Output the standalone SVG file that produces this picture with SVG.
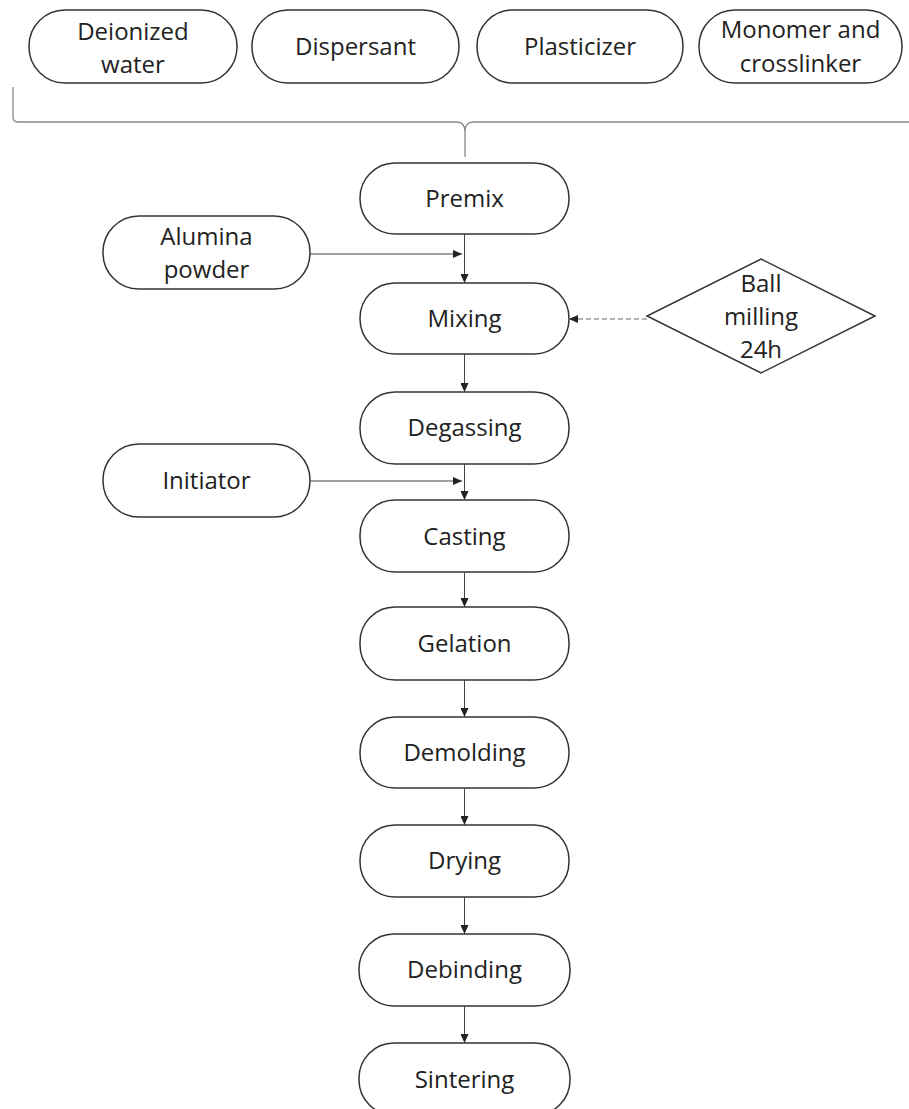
<svg xmlns="http://www.w3.org/2000/svg" width="909" height="1109" viewBox="0 0 909 1109">
<defs>
<marker id="ah" markerWidth="10" markerHeight="8" refX="9" refY="4" orient="auto" markerUnits="userSpaceOnUse">
<path d="M0,0 L9,4 L0,8 Z" fill="#222"/>
</marker>
<style>
.n{fill:#fff;stroke:#333;stroke-width:1.5}
.t{font-family:"Open Sans","Liberation Sans",sans-serif;font-size:24px;fill:#222;text-anchor:middle}
.c{fill:none;stroke:#444;stroke-width:1}
.d{fill:none;stroke:#666;stroke-width:1;stroke-dasharray:5,3}
.b{fill:none;stroke:#888;stroke-width:1.3}
</style>
</defs>
<rect width="909" height="1109" fill="#fff"/>

<g id="deionized-water"><rect class="n" x="29" y="10" width="208" height="73" rx="36" ry="36"/><text class="t" x="133" y="40">Deionized</text><text class="t" x="133" y="73">water</text></g>
<g id="dispersant"><rect class="n" x="252" y="10" width="207" height="73" rx="36" ry="36"/><text class="t" x="355.5" y="55">Dispersant</text></g>
<g id="plasticizer"><rect class="n" x="477" y="10" width="206" height="73" rx="36" ry="36"/><text class="t" x="580" y="55">Plasticizer</text></g>
<g id="monomer"><rect class="n" x="699" y="10" width="203" height="73" rx="36" ry="36"/><text class="t" x="800.5" y="38">Monomer and</text><text class="t" x="800.5" y="72">crosslinker</text></g>

<g id="brace"><path class="b" d="M13,87 L13,117 Q13,122 18,122 L457,122 Q465,122 465,132 L465,157 M465,132 Q465,122 473,122 L912,122"/></g>

<g id="premix"><rect class="n" x="360" y="163" width="209" height="71" rx="35" ry="35"/><text class="t" x="464.5" y="207">Premix</text></g>
<g id="alumina"><rect class="n" x="103" y="216" width="207" height="73" rx="36" ry="36"/><text class="t" x="206.5" y="245">Alumina</text><text class="t" x="206.5" y="278">powder</text></g>
<g id="mixing"><rect class="n" x="360" y="283" width="209" height="71" rx="35" ry="35"/><text class="t" x="464.5" y="327">Mixing</text></g>
<g id="ball-milling"><polygon class="n" points="761,259 875,316 761,373 647,316"/><text class="t" x="761" y="292">Ball</text><text class="t" x="761" y="325">milling</text><text class="t" x="761" y="358">24h</text></g>
<g id="degassing"><rect class="n" x="360" y="392" width="209" height="72" rx="35" ry="35"/><text class="t" x="464.5" y="436">Degassing</text></g>
<g id="initiator"><rect class="n" x="103" y="444" width="207" height="73" rx="36" ry="36"/><text class="t" x="206.5" y="489">Initiator</text></g>
<g id="casting"><rect class="n" x="360" y="500" width="209" height="72" rx="35" ry="35"/><text class="t" x="464.5" y="545">Casting</text></g>
<g id="gelation"><rect class="n" x="360" y="607" width="209" height="73" rx="35" ry="35"/><text class="t" x="464.5" y="652">Gelation</text></g>
<g id="demolding"><rect class="n" x="360" y="717" width="209" height="71" rx="35" ry="35"/><text class="t" x="464.5" y="761">Demolding</text></g>
<g id="drying"><rect class="n" x="360" y="825" width="209" height="72" rx="35" ry="35"/><text class="t" x="464.5" y="869">Drying</text></g>
<g id="debinding"><rect class="n" x="359" y="934" width="211" height="72" rx="35" ry="35"/><text class="t" x="464.5" y="978">Debinding</text></g>
<g id="sintering"><rect class="n" x="359" y="1043" width="211" height="72" rx="35" ry="35"/><text class="t" x="464.5" y="1088">Sintering</text></g>

<g id="connectors">
<line class="c" x1="464.5" y1="234" x2="464.5" y2="283" marker-end="url(#ah)"/>
<line class="c" x1="310" y1="254" x2="462" y2="254" marker-end="url(#ah)"/>
<line class="d" x1="647" y1="319" x2="569" y2="319" marker-end="url(#ah)"/>
<line class="c" x1="464.5" y1="354" x2="464.5" y2="392" marker-end="url(#ah)"/>
<line class="c" x1="464.5" y1="464" x2="464.5" y2="500" marker-end="url(#ah)"/>
<line class="c" x1="310" y1="481" x2="462" y2="481" marker-end="url(#ah)"/>
<line class="c" x1="464.5" y1="572" x2="464.5" y2="607" marker-end="url(#ah)"/>
<line class="c" x1="464.5" y1="680" x2="464.5" y2="717" marker-end="url(#ah)"/>
<line class="c" x1="464.5" y1="788" x2="464.5" y2="825" marker-end="url(#ah)"/>
<line class="c" x1="464.5" y1="897" x2="464.5" y2="934" marker-end="url(#ah)"/>
<line class="c" x1="464.5" y1="1006" x2="464.5" y2="1043" marker-end="url(#ah)"/>
</g>
</svg>
